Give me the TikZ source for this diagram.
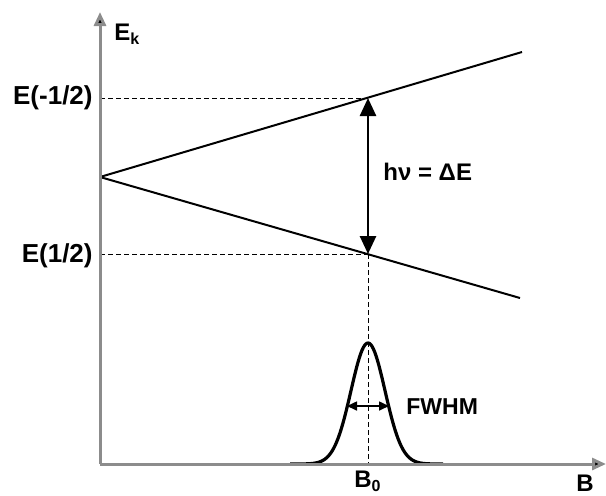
\documentclass[tikz,border=0pt]{standalone}
\usepackage{fontspec}
\setmainfont{Liberation Sans}
\usetikzlibrary{arrows.meta}
\begin{document}
\begin{tikzpicture}[x=0.5pt,y=-0.5pt,
  axis/.style={draw=black!45,line width=1.5pt,-{Triangle[length=7pt,width=6pt,fill=black]}},
  level/.style={draw=black,line width=1pt},
  guide/.style={draw=black,line width=0.5pt,dash pattern=on 2.5pt off 1.5pt},
  lab/.style={font=\fontsize{12}{14}\selectfont\bfseries,inner sep=1pt},
  dE/.style={draw=black,line width=1.3pt,{Triangle[length=9pt,width=8pt]}-{Triangle[length=9pt,width=8pt]}},
  fw/.style={draw=black,line width=0.8pt,-{Triangle[length=5pt,width=4.5pt]}}]
\useasboundingbox (0,0) rectangle (606,495);
\coordinate (O) at (100,464);
\coordinate (ytop) at (100,12);
\coordinate (xend) at (606,464);
\coordinate (V) at (100,177);
\coordinate (U) at (522,52);
\coordinate (L) at (520,298);
\coordinate (Up) at (368,98);
\coordinate (Lo) at (368,254);
\coordinate (Lup) at (100,98);
\coordinate (Llo) at (100,254);
\coordinate (Bz) at (368,464);
\coordinate (fwc) at (368,406);
\coordinate (fwl) at (347,406);
\coordinate (fwr) at (389,406);
% dashed guides
\draw[guide] (Lup) -- (Up);
\draw[guide] (Llo) -- (Lo);
\draw[guide] (Lo) -- (Bz);
% energy levels
\draw[level] (V) -- (U);
\draw[level] (V) -- (L);
% transition arrow
\draw[dE] (Lo) -- (Up);
% gaussian
\draw[line width=1.6pt,line join=round] plot[domain=290:443,samples=120] (\x,{464-121*exp(-((\x-368)/17)^2/2)});
\draw[fw] (fwc) -- (fwl);
\draw[fw] (fwc) -- (fwr);
% axes
\draw[axis] (O) -- (ytop);
\draw[axis] (O) -- (xend);
% labels
\node[lab,anchor=west] (ek) at (112,34) {E\textsubscript{\fontsize{8}{9}\selectfont\bfseries k}};
\node[lab,anchor=east,font=\fontsize{13}{15}\selectfont\bfseries] (em) at (95,98) {E(-1/2)};
\node[lab,anchor=east,font=\fontsize{13}{15}\selectfont\bfseries] (ep) at (95,256) {E(1/2)};
\node[lab,anchor=west] (hv) at (381,172) {hν = ΔE};
\node[lab,anchor=west,font=\fontsize{11.5}{14}\selectfont\bfseries] (fwhm) at (404,407) {FWHM};
\node[lab,anchor=south] (b0) at (368,494) {B\textsubscript{\fontsize{8}{9}\selectfont\bfseries 0}};
\node[lab,anchor=south] (b) at (585,494) {B};
\end{tikzpicture}
\end{document}
